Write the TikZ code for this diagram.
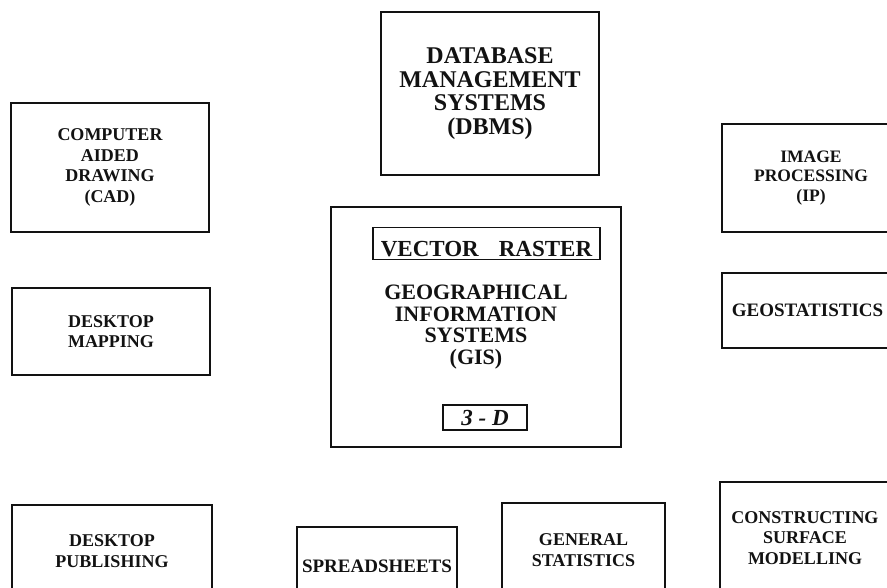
\documentclass[tikz,border=0pt]{standalone}
\usepackage{fontspec}
\setmainfont{Liberation Serif}
\usetikzlibrary{positioning}
\definecolor{ink}{RGB}{18,18,18}
\tikzset{
  sysbox/.style={draw=ink,line width=1.8pt,align=center,text=ink,inner sep=2pt,
    font=\fontsize{18}{20.5}\selectfont\bfseries},
  bigbox/.style={sysbox,font=\fontsize{#1}{#1}\selectfont\bfseries},
  bigbox/.default=24,
  inbox/.style={draw=ink,line width=1.4pt,text=ink,inner xsep=2pt,
    font=\fontsize{23}{23}\selectfont\bfseries},
}
\begin{document}
\begin{tikzpicture}[x=1pt,y=-1pt]
  \useasboundingbox (0,0) rectangle (887,588);
  \clip (0,0) rectangle (887,588);
  % centre
  \node[bigbox=22,minimum width=290pt,minimum height=240pt,
    font=\fontsize{22}{21.5}\selectfont\bfseries] (gis) at (476,327)
    {GEOGRAPHICAL\\INFORMATION\\SYSTEMS\\(GIS)};
  \node[inbox,anchor=south,minimum width=227pt,text height=26pt,text depth=0pt,inner ysep=3pt] (vr) at (486.5,260) {VECTOR\hspace{20pt}RASTER};
  \node[inbox,minimum width=84pt,minimum height=25pt,inner ysep=0pt] (td) at (485,417.5) {\itshape 3 - D};
  \node[bigbox,minimum width=218pt,minimum height=163pt,
    font=\fontsize{24}{23.5}\selectfont\bfseries] (dbms) at (490,93.5)
    {DATABASE\\MANAGEMENT\\SYSTEMS\\(DBMS)};
  % left column
  \node[sysbox,minimum width=198pt,minimum height=129pt] (cad) at (110,167.5) {COMPUTER\\AIDED\\DRAWING\\(CAD)};
  \node[sysbox,minimum width=198pt,minimum height=87pt] (dmap) at (111,331.5) {DESKTOP\\MAPPING};
  \node[sysbox,minimum width=200pt,minimum height=92pt] (dpub) at (112,551) {DESKTOP\\PUBLISHING};
  % right column
  \node[sysbox,minimum width=178pt,minimum height=108pt,font=\fontsize{17.5}{19.5}\selectfont\bfseries] (ip) at (811,178) {IMAGE\\PROCESSING\\(IP)};
  \node[sysbox,minimum width=171pt,minimum height=75pt,font=\fontsize{19}{20}\selectfont\bfseries] (geo) at (807.5,310.5) {GEOSTATISTICS};
  \node[sysbox,minimum width=170pt,minimum height=112pt] (csm) at (805,538) {CONSTRUCTING\\SURFACE\\MODELLING};
  % bottom row
  \node[sysbox,minimum width=160pt,minimum height=78pt,font=\fontsize{19}{20}\selectfont\bfseries] (sheet) at (377,566) {SPREADSHEETS};
  \node[sysbox,minimum width=163pt,minimum height=94pt] (gstat) at (583.5,550) {GENERAL\\STATISTICS};
\end{tikzpicture}
\end{document}
